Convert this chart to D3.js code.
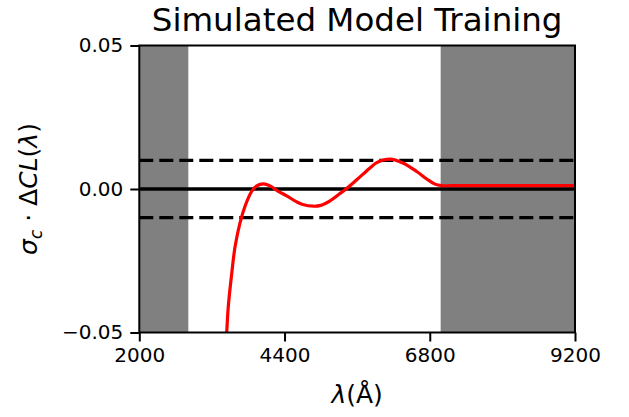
<!DOCTYPE html>
<html>
<head>
<meta charset="utf-8">
<script src="https://cdn.jsdelivr.net/npm/d3@7"></script>
<style>
  html, body { margin: 0; padding: 0; background: #fff; }
  svg { display: block; font-family: "DejaVu Sans", sans-serif; }
</style>
</head>
<body>
<svg id="chart" width="629" height="417"></svg>
<script>
"use strict";

// residual curve (wavelength in Å, value)
const wavelengths = [3390, 3444, 3471, 3527, 3581, 3664, 3747, 3857, 3940, 4049,
  4160, 4297, 4436, 4601, 4700, 4876, 5000, 5152, 5300, 5417,
  5593, 5812, 5923, 6143, 6363, 6584, 6749, 6886, 6997, 7300, 9200];
const residuals = [-0.066, -0.0500, -0.0408, -0.0295, -0.0203, -0.0118, -0.0060, -0.0008, 0.0011, 0.0018,
  0.0011, -0.0008, -0.0024, -0.0045, -0.0054, -0.0060, -0.0057, -0.0041, -0.0018, 0.0000,
  0.0032, 0.0073, 0.0092, 0.0104, 0.0090, 0.0061, 0.0035, 0.0017, 0.0012, 0.0012, 0.0012];

// masked (grey) wavelength ranges
const maskStarts = [2000, 6980];
const maskEnds = [2810, 9200];

const threshold = 0.01;
const xTicks = [2000, 4400, 6800, 9200];
const yTicks = [-0.05, 0, 0.05];

const svg = d3.select("#chart");
const pLeft = 139.3, pRight = 575, pTop = 45.5, pBottom = 332.5;

const x = d3.scaleLinear().domain([2000, 9200]).range([pLeft, pRight]);
const y = d3.scaleLinear().domain([-0.05, 0.05]).range([pBottom, pTop]);

svg.append("defs").append("clipPath").attr("id", "plot-clip")
  .append("rect")
  .attr("x", pLeft).attr("y", pTop)
  .attr("width", pRight - pLeft).attr("height", pBottom - pTop);

const plot = svg.append("g").attr("clip-path", "url(#plot-clip)");

// grey masked regions
plot.selectAll("rect.mask")
  .data(maskStarts.map((s, i) => [s, maskEnds[i]]))
  .enter().append("rect")
  .attr("class", "mask")
  .attr("x", (d) => x(d[0]))
  .attr("width", (d) => x(d[1]) - x(d[0]))
  .attr("y", pTop)
  .attr("height", pBottom - pTop)
  .attr("fill", "#808080");

// zero line and ±threshold dashed lines
plot.append("line")
  .attr("x1", pLeft).attr("x2", pRight)
  .attr("y1", y(0)).attr("y2", y(0))
  .attr("stroke", "#000").attr("stroke-width", 3.3);

plot.selectAll("line.thr")
  .data([threshold, -threshold])
  .enter().append("line")
  .attr("class", "thr")
  .attr("x1", pLeft).attr("x2", pRight)
  .attr("y1", (d) => y(d)).attr("y2", (d) => y(d))
  .attr("stroke", "#000").attr("stroke-width", 3.3)
  .attr("stroke-dasharray", "14,6");

// residual curve
const line = d3.line()
  .x((d) => x(d[0]))
  .y((d) => y(d[1]))
  .curve(d3.curveCatmullRom.alpha(0.5));

plot.append("path")
  .datum(wavelengths.map((w, i) => [w, residuals[i]]))
  .attr("d", line)
  .attr("fill", "none")
  .attr("stroke", "#ff0000")
  .attr("stroke-width", 3.2)
  .attr("stroke-linejoin", "round");

// spines
svg.append("rect")
  .attr("x", pLeft).attr("y", pTop)
  .attr("width", pRight - pLeft).attr("height", pBottom - pTop)
  .attr("fill", "none").attr("stroke", "#000").attr("stroke-width", 2);

// axes
const xAxis = svg.append("g")
  .attr("transform", `translate(0,${pBottom})`)
  .call(d3.axisBottom(x).tickValues(xTicks).tickFormat(d3.format("d"))
    .tickSize(9).tickPadding(6));
const yAxis = svg.append("g")
  .attr("transform", `translate(${pLeft},0)`)
  .call(d3.axisLeft(y).tickValues(yTicks).tickFormat(d3.format(".2f"))
    .tickSize(9).tickPadding(7));

[xAxis, yAxis].forEach((g) => {
  g.select(".domain").remove();
  g.selectAll(".tick line").attr("stroke", "#000").attr("stroke-width", 2);
  g.selectAll(".tick text")
    .attr("fill", "#000")
    .style("font-family", "'DejaVu Sans', sans-serif")
    .style("font-size", "20px");
});

// title
svg.append("text")
  .attr("x", (pLeft + pRight) / 2)
  .attr("y", 31)
  .attr("text-anchor", "middle")
  .style("font-size", "32.5px")
  .text("Simulated Model Training");

// x label: λ(Å)
const xl = svg.append("text")
  .attr("x", (pLeft + pRight) / 2)
  .attr("y", 403)
  .attr("text-anchor", "middle")
  .style("font-size", "25px");
xl.append("tspan").style("font-style", "italic").text("λ");
xl.append("tspan").text("(Å)");

// y label: σ_c · ΔCL(λ)
const yl = svg.append("text")
  .attr("transform", `translate(37,${(pTop + pBottom) / 2}) rotate(-90)`)
  .attr("text-anchor", "middle")
  .style("font-size", "25px");
yl.append("tspan").style("font-style", "italic").text("σ");
yl.append("tspan").style("font-style", "italic").style("font-size", "17px").attr("dy", 5).text("c");
yl.append("tspan").attr("dy", -5).text(" · Δ");
yl.append("tspan").style("font-style", "italic").text("CL");
yl.append("tspan").text("(");
yl.append("tspan").style("font-style", "italic").text("λ");
yl.append("tspan").text(")");
</script>
</body>
</html>
